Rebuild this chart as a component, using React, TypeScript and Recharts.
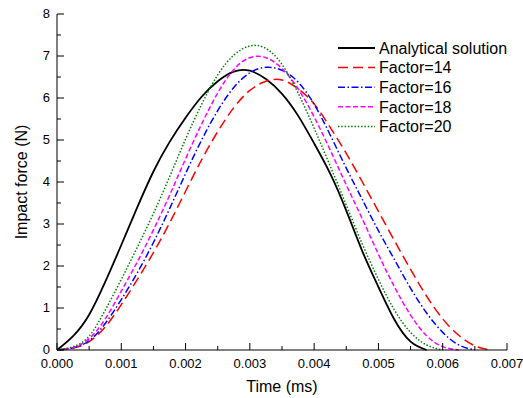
import { LineChart, Line, XAxis, YAxis, Legend } from "recharts"

const FONT = '"Liberation Sans", Arial, Helvetica, sans-serif'

// time in seconds (axis says ms, kept as in the original figure)
const times = [
  0, 0.00025, 0.0005, 0.00075, 0.001, 0.00125, 0.0015, 0.00175, 0.002, 0.00225,
  0.0025, 0.00275, 0.003, 0.00325, 0.0035, 0.00375, 0.004, 0.00425, 0.0045, 0.00475,
  0.005, 0.00525, 0.0055, 0.00575, 0.006, 0.00625, 0.0065, 0.00675, 0.007,
]

const analytical = [
  0, 0.33, 0.84, 1.62, 2.5, 3.4, 4.25, 4.95, 5.53, 6.03,
  6.4, 6.63, 6.65, 6.45, 6.1, 5.58, 4.92, 4.2, 3.32, 2.35,
  1.5, 0.72, 0.2, 0,
]
const factor14 = [
  0, 0.05, 0.2, 0.55, 1.08, 1.68, 2.32, 3.02, 3.78, 4.53,
  5.2, 5.77, 6.18, 6.4, 6.43, 6.22, 5.86, 5.3, 4.68, 4.0,
  3.3, 2.6, 1.92, 1.28, 0.74, 0.35, 0.1, 0,
]
const factor16 = [
  0, 0.05, 0.22, 0.63, 1.2, 1.84, 2.56, 3.36, 4.2, 5.0,
  5.7, 6.25, 6.6, 6.73, 6.66, 6.38, 5.85, 5.12, 4.33, 3.58,
  2.84, 2.15, 1.47, 0.88, 0.42, 0.12, 0,
]
const factor18 = [
  0, 0.06, 0.27, 0.74, 1.4, 2.1, 2.86, 3.68, 4.55, 5.38,
  6.12, 6.68, 6.96, 6.96, 6.7, 6.22, 5.55, 4.76, 3.93, 3.12,
  2.28, 1.5, 0.83, 0.34, 0.08, 0,
]
const factor20 = [
  0, 0.08, 0.33, 0.95, 1.68, 2.45, 3.25, 4.12, 5.02, 5.85,
  6.55, 7.02, 7.24, 7.18, 6.8, 6.12, 5.28, 4.38, 3.45, 2.52,
  1.68, 0.95, 0.42, 0.12, 0,
]

const xTicks = [
  0, 0.0005, 0.001, 0.0015, 0.002, 0.0025, 0.003, 0.0035, 0.004, 0.0045,
  0.005, 0.0055, 0.006, 0.0065, 0.007,
]
const yTicks = [0, 0.5, 1, 1.5, 2, 2.5, 3, 3.5, 4, 4.5, 5, 5.5, 6, 6.5, 7, 7.5, 8]

const series = [
  { key: "analytical", name: "Analytical solution", values: analytical, color: "#000000", dash: undefined, width: 1.8 },
  { key: "f14", name: "Factor=14", values: factor14, color: "#ff0000", dash: "10 5", width: 1.5 },
  { key: "f16", name: "Factor=16", values: factor16, color: "#0000ff", dash: "7 2.5 1.5 2.5", width: 1.5 },
  { key: "f18", name: "Factor=18", values: factor18, color: "#ff00ff", dash: "5 2.5", width: 1.5 },
  { key: "f20", name: "Factor=20", values: factor20, color: "#008000", dash: "1.5 1.8", width: 1.5 },
]

const data = times.map((t, i) => {
  const row: Record<string, number | undefined> = { t }
  series.forEach((s) => {
    row[s.key] = s.values[i]
  })
  return row
})

function XTick({ x, y, payload }: any) {
  const v = payload.value
  const major = Math.round(v * 10000) % 10 === 0
  return (
    <g>
      <line x1={x} x2={x} y1={y} y2={y - (major ? 7 : 4)} stroke="#000" strokeWidth={1} />
      {major && (
        <text x={x} y={y + 17.5} textAnchor="middle" fontSize={13} fontFamily={FONT} fill="#000">
          {v.toFixed(3)}
        </text>
      )}
    </g>
  )
}

function YTick({ x, y, payload }: any) {
  const v = payload.value
  const major = v % 1 === 0
  return (
    <g>
      <line x1={x} x2={x + (major ? 7 : 4)} y1={y} y2={y} stroke="#000" strokeWidth={1} />
      {major && (
        <text x={x - 7} y={y + 4} textAnchor="end" fontSize={13} fontFamily={FONT} fill="#000">
          {v}
        </text>
      )}
    </g>
  )
}

function LegendBox() {
  return (
    <svg width={180} height={100} style={{ display: "block" }}>
      {series.map((s, i) => {
        const cy = 10 + i * 19.6
        return (
          <g key={s.key}>
            <line x1={2} x2={39} y1={cy} y2={cy} stroke={s.color} strokeWidth={s.width} strokeDasharray={s.dash} />
            <text x={43} y={cy + 5.7} fontSize={16} fontFamily={FONT} fill="#000">
              {s.name}
            </text>
          </g>
        )
      })}
    </svg>
  )
}

export default function App() {
  return (
    <div style={{ position: "absolute", left: 0, top: 0, background: "#fff" }}>
      <LineChart width={523} height={398} data={data} margin={{ top: 14, right: 16, bottom: 0, left: 0 }}>
        <XAxis
          dataKey="t"
          type="number"
          domain={[0, 0.007]}
          ticks={xTicks}
          interval={0}
          tick={<XTick />}
          tickLine={false}
          tickSize={0}
          tickMargin={0}
          height={48}
          axisLine={{ stroke: "#000", strokeWidth: 1 }}
          label={{ value: "Time (ms)", position: "insideBottom", offset: 6.5, fontSize: 16, fill: "#000", fontFamily: FONT }}
        />
        <YAxis
          type="number"
          domain={[0, 8]}
          ticks={yTicks}
          interval={0}
          tick={<YTick />}
          tickLine={false}
          tickSize={0}
          tickMargin={0}
          width={57}
          axisLine={{ stroke: "#000", strokeWidth: 1 }}
          label={() => (
            <text
              x={26.5}
              y={182}
              transform="rotate(-90, 26.5, 182)"
              textAnchor="middle"
              fontSize={16}
              fontFamily={FONT}
              fill="#000"
            >
              Impact force (N)
            </text>
          )}
        />
        <Legend
          layout="vertical"
          verticalAlign="middle"
          align="center"
          content={() => <LegendBox />}
          wrapperStyle={{ left: 336, top: 37.7, width: 180, height: 100 }}
        />
        {series.map((s) => (
          <Line
            key={s.key}
            dataKey={s.key}
            name={s.name}
            type="natural"
            stroke={s.color}
            strokeWidth={s.width}
            strokeDasharray={s.dash}
            dot={false}
            activeDot={false}
            isAnimationActive={false}
          />
        ))}
      </LineChart>
    </div>
  )
}
